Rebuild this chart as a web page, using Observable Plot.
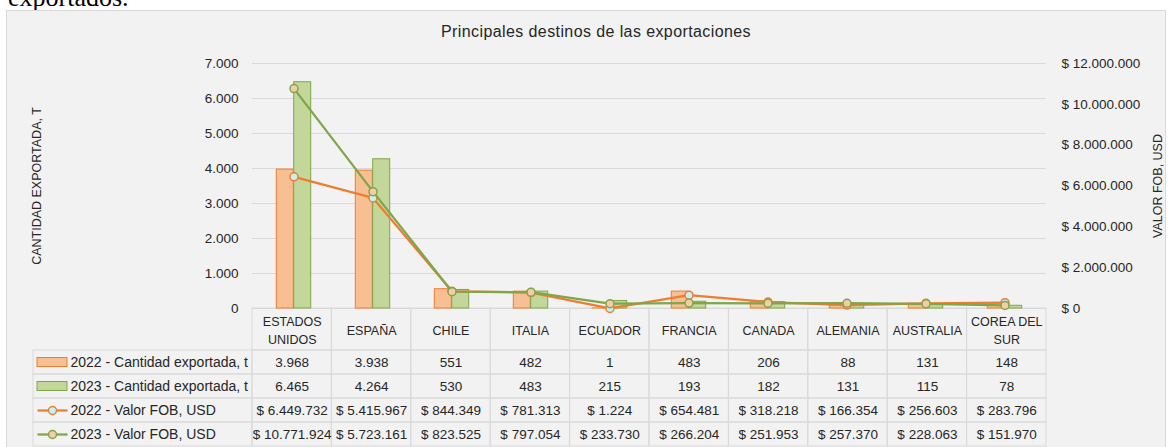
<!DOCTYPE html>
<html><head><meta charset="utf-8">
<script src="https://cdn.jsdelivr.net/npm/d3@7"></script>
<script src="https://cdn.jsdelivr.net/npm/@observablehq/plot@0.6"></script>
<style>
body{margin:0;background:#fff;width:1172px;height:447px;overflow:hidden;position:relative;font-family:"Liberation Sans",Arial,sans-serif;}
#above{position:absolute;left:8px;top:-15px;font-family:"Liberation Serif","Times New Roman",serif;font-size:26px;color:#000;line-height:26px;}
#box{position:absolute;left:6px;top:10px;width:1160px;height:445px;background:#f2f2f2;border:1px solid #d9d9d9;box-sizing:border-box;}
#title{position:absolute;left:0;width:1192px;top:24px;text-align:center;font-size:16px;line-height:16px;letter-spacing:0.4px;color:#262626;}
.layer{position:absolute;left:0;top:0;}
</style></head><body>
<div id="above">exportados.</div>
<div id="box"></div>
<div id="title">Principales destinos de las exportaciones</div>
<div id="table" class="layer" style="top:308px"></div>
<div id="chart" class="layer"></div>
<script>
const categories = ["ESTADOS UNIDOS","ESPAÑA","CHILE","ITALIA","ECUADOR","FRANCIA","CANADA","ALEMANIA","AUSTRALIA","COREA DEL SUR"];
const categoryLabels = ["ESTADOS\nUNIDOS","ESPAÑA","CHILE","ITALIA","ECUADOR","FRANCIA","CANADA","ALEMANIA","AUSTRALIA","COREA DEL\nSUR"];
const qty2022 = [3968,3938,551,482,1,483,206,88,131,148];
const qty2023 = [6465,4264,530,483,215,193,182,131,115,78];
const fob2022 = [6449732,5415967,844349,781313,1224,654481,318218,166354,256603,283796];
const fob2023 = [10771924,5723161,823525,797054,233730,266204,251953,257370,228063,151970];
const seriesNames = ["2022 - Cantidad exportada, t","2023 - Cantidad exportada, t","2022 - Valor FOB, USD","2023 - Valor FOB, USD"];
const leftTicks = [0,1000,2000,3000,4000,5000,6000,7000];
const rightTicks = [0,2000000,4000000,6000000,8000000,10000000,12000000];
const leftTitle = "CANTIDAD EXPORTADA, T";
const rightTitle = "VALOR FOB, USD";

const locale = d3.formatLocale({decimal:",", thousands:".", grouping:[3], currency:["$ ",""]});
const fmt = locale.format(",d");
const money = v => "$ " + fmt(v);
const K = 7000 / 12000000; // secondary axis -> primary axis

const rows = categories.map((c,i)=>({c, q22:qty2022[i], q23:qty2023[i], f22:fob2022[i], f23:fob2023[i]}));

const W = 1172, ML = 252, MR = 126;
const bw = (W - ML - MR) / categories.length;
const font = '"Liberation Sans", Arial, sans-serif';
const ink = "#262626";
const C = {o:"#ed7d31", oFill:"#f8c092", g:"#7ea64a", gFill:"#c4d79b", oDot:"#c6f0f5", gDot:"#f6cbab", grid:"#d9d9d9"};

const chart = Plot.plot({
  width: W, height: 320, marginLeft: ML, marginRight: MR, marginTop: 63, marginBottom: 12,
  style: {background:"transparent", overflow:"visible", fontFamily: font, color: ink},
  x: {type:"band", domain: categories, padding: 0, axis: null},
  y: {domain:[0,7000], axis: null},
  marks: [
    Plot.ruleY(leftTicks, {stroke: C.grid, strokeWidth: 1}),
    Plot.axisY({anchor:"left", ticks: leftTicks, tickSize: 0, tickPadding: 14, tickFormat: fmt, fontSize: 13.5, label: null}),
    Plot.axisY({anchor:"right", ticks: rightTicks.map(v => v*K), tickSize: 0, tickPadding: 15,
      tickFormat: d => money(Math.round(d / K / 1000) * 1000), fontSize: 13.5, label: null}),
    Plot.barY(rows, {x:"c", y:"q22", fill: C.oFill, stroke: C.o, strokeWidth: 1, insetLeft: 22.3, insetRight: 39.7}),
    Plot.barY(rows, {x:"c", y:"q23", fill: C.gFill, stroke: C.g, strokeWidth: 1, insetLeft: 39.7, insetRight: 22.3}),
    Plot.line(rows, {x:"c", y: d => d.f22*K, stroke: C.o, strokeWidth: 2.25}),
    Plot.dot(rows, {x:"c", y: d => d.f22*K, r: 4, fill: C.oDot, stroke: C.o, strokeWidth: 1.5}),
    Plot.line(rows, {x:"c", y: d => d.f23*K, stroke: C.g, strokeWidth: 2.25}),
    Plot.dot(rows, {x:"c", y: d => d.f23*K, r: 4, fill: C.gDot, stroke: C.g, strokeWidth: 1.5}),
    Plot.text([leftTitle], {frameAnchor:"left", dx: -216, rotate: -90, textAnchor: "middle", lineAnchor: "middle", fontSize: 12.5, fill: ink}),
    Plot.text([rightTitle], {frameAnchor:"right", dx: 111, rotate: -90, textAnchor: "middle", lineAnchor: "middle", fontSize: 12.5, fill: ink})
  ]
});
document.getElementById("chart").append(chart);

// data table below the chart
const headerH = 1.75; // header row height in row units
const legendLeft = -(ML - 33) / bw;
const px2u = p => (p - ML) / bw;
const series = [qty2022.map(fmt), qty2023.map(fmt), fob2022.map(money), fob2023.map(money)];
const headerCells = categories.map((c,i)=>({i, label: categoryLabels[i]}));
const valueCells = series.flatMap((vals, r) => vals.map((t,i)=>({i, r, t})));
const legendCells = seriesNames.map((name, r) => ({r, name}));

const table = Plot.plot({
  width: W, height: 139, marginLeft: ML, marginRight: MR, marginTop: 0, marginBottom: 1,
  style: {background:"transparent", overflow:"visible", fontFamily: font, color: ink},
  x: {domain:[0, categories.length], axis: null},
  y: {domain:[0, headerH + 4], range:[0, 138], axis: null},
  marks: [
    Plot.rect(headerCells, {x1: d=>d.i, x2: d=>d.i+1, y1: 0, y2: headerH, fill:"none", stroke: C.grid}),
    Plot.rect(valueCells, {x1: d=>d.i, x2: d=>d.i+1, y1: d=>headerH+d.r, y2: d=>headerH+d.r+1, fill:"none", stroke: C.grid}),
    Plot.rect(legendCells, {x1: legendLeft, x2: 0, y1: d=>headerH+d.r, y2: d=>headerH+d.r+1, fill:"none", stroke: C.grid}),
    Plot.text(headerCells, {x: d=>d.i+0.5, y: headerH/2, text: "label", lineHeight: 1.41, fontSize: 12.5, fill: ink}),
    Plot.text(valueCells, {x: d=>d.i+0.5, y: d=>headerH+d.r+0.5, text: "t", fontSize: 13.5, fill: ink}),
    Plot.text(legendCells, {x: legendLeft, y: d=>headerH+d.r+0.5, dx: 37, text: "name", textAnchor: "start", fontSize: 14, fill: ink}),
    // legend swatches
    Plot.rect(legendCells.slice(0,2), {x1: px2u(37), x2: px2u(67), y1: d=>headerH+d.r, y2: d=>headerH+d.r+1, insetTop: 7.5, insetBottom: 7.5,
      fill: d => d.r === 0 ? C.oFill : C.gFill, stroke: d => d.r === 0 ? C.o : C.g, strokeWidth: 1}),
    Plot.link(legendCells.slice(2), {x1: px2u(37), x2: px2u(67), y1: d=>headerH+d.r+0.5, y2: d=>headerH+d.r+0.5,
      stroke: d => d.r === 2 ? C.o : C.g, strokeWidth: 2.25}),
    Plot.dot(legendCells.slice(2), {x: px2u(52), y: d=>headerH+d.r+0.5, r: 4,
      fill: d => d.r === 2 ? C.oDot : C.gDot, stroke: d => d.r === 2 ? C.o : C.g, strokeWidth: 1.5})
  ]
});
document.getElementById("table").append(table);
</script>
</body></html>
